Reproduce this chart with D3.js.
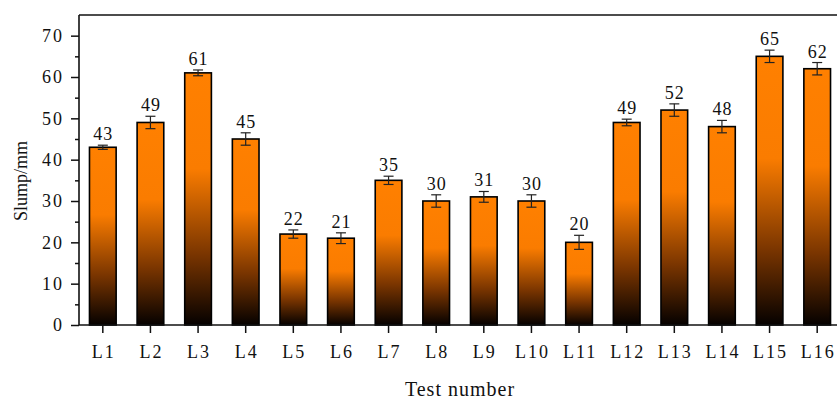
<!DOCTYPE html>
<html>
<head>
<meta charset="utf-8">
<script src="https://cdn.jsdelivr.net/npm/d3@7"></script>
<style>
body { margin: 0; background: #fff; }
text { font-family: "Liberation Serif", "Times New Roman", serif; fill: #111; }
</style>
</head>
<body>
<div id="chart"></div>
<script>
var tests = ["L1","L2","L3","L4","L5","L6","L7","L8","L9","L10","L11","L12","L13","L14","L15","L16"];
var slump = [43, 49, 61, 45, 22, 21, 35, 30, 31, 30, 20, 49, 52, 48, 65, 62];
var errors = [0.5, 1.5, 0.7, 1.5, 1.0, 1.3, 1.0, 1.5, 1.3, 1.5, 1.7, 0.8, 1.5, 1.5, 1.5, 1.5];
var yTicks = [0, 10, 20, 30, 40, 50, 60, 70];

var W = 837, H = 401;
var margin = {top: 15, left: 79, bottom: 76, right: -4};

var svg = d3.select("#chart").append("svg")
	.attr("width", W).attr("height", H);

var grad = svg.append("defs").append("linearGradient")
	.attr("id", "barGrad")
	.attr("x1", 0).attr("y1", 0).attr("x2", 0).attr("y2", 1);
grad.append("stop").attr("offset", "0").attr("stop-color", "#ff8000");
grad.append("stop").attr("offset", "0.38").attr("stop-color", "#fa7c00");
grad.append("stop").attr("offset", "0.72").attr("stop-color", "#7a3500");
grad.append("stop").attr("offset", "1").attr("stop-color", "#050100");

var x = d3.scaleBand().domain(tests)
	.range([margin.left, W - margin.right])
	.paddingInner(0.44).paddingOuter(0.22);
var y = d3.scaleLinear().domain([0, 75]).range([H - margin.bottom, margin.top]);

var data = tests.map(function(t, i) { return {name: t, value: slump[i], err: errors[i]}; });

// bars
svg.selectAll(".bar")
	.data(data).enter()
	.append("rect")
	.attr("class", "bar")
	.attr("x", function(d) { return x(d.name); })
	.attr("y", function(d) { return y(d.value); })
	.attr("width", x.bandwidth())
	.attr("height", function(d) { return y(0) - y(d.value); })
	.attr("fill", "url(#barGrad)")
	.attr("stroke", "#000")
	.attr("stroke-width", 1.6);

// error bars
var eb = svg.selectAll(".err").data(data).enter().append("g").attr("class", "err")
	.attr("stroke", "#222").attr("stroke-width", 1.2);
eb.append("line")
	.attr("x1", function(d) { return x(d.name) + x.bandwidth()/2; })
	.attr("x2", function(d) { return x(d.name) + x.bandwidth()/2; })
	.attr("y1", function(d) { return y(d.value - d.err); })
	.attr("y2", function(d) { return y(d.value + d.err); });
eb.append("line")
	.attr("x1", function(d) { return x(d.name) + x.bandwidth()/2 - 5; })
	.attr("x2", function(d) { return x(d.name) + x.bandwidth()/2 + 5; })
	.attr("y1", function(d) { return y(d.value + d.err); })
	.attr("y2", function(d) { return y(d.value + d.err); });
eb.append("line")
	.attr("x1", function(d) { return x(d.name) + x.bandwidth()/2 - 5; })
	.attr("x2", function(d) { return x(d.name) + x.bandwidth()/2 + 5; })
	.attr("y1", function(d) { return y(d.value - d.err); })
	.attr("y2", function(d) { return y(d.value - d.err); });

// value labels
svg.selectAll(".val")
	.data(data).enter()
	.append("text")
	.attr("class", "val")
	.attr("x", function(d) { return x(d.name) + x.bandwidth()/2 + 0.5; })
	.attr("y", function(d) { return y(d.value + d.err) - 5; })
	.attr("text-anchor", "middle")
	.style("font-size", "18px")
	.style("letter-spacing", "1px")
	.text(function(d) { return d.value; });

// axes
var yAxis = d3.axisLeft(y).tickValues(yTicks).tickSize(8).tickPadding(9);
var yMinor = d3.axisLeft(y).tickValues(d3.range(5, 75, 10)).tickSize(4).tickFormat("");
var xAxis = d3.axisBottom(x).tickSize(8).tickPadding(12);

var gy = svg.append("g").attr("transform", "translate(" + margin.left + ",0)").call(yAxis);
svg.append("g").attr("transform", "translate(" + margin.left + ",0)").call(yMinor);
var gx = svg.append("g").attr("transform", "translate(0," + y(0) + ")").call(xAxis);

svg.selectAll(".domain").remove();
svg.selectAll(".tick line").attr("stroke", "#111").attr("stroke-width", 1.5);
svg.selectAll(".tick text").style("font-size", "18px").attr("fill", "#111")
	.style("letter-spacing", "2px")
	.style("font-family", "'Liberation Serif', 'Times New Roman', serif");
gx.selectAll(".tick text").attr("dx", "1px");
gy.selectAll(".tick text").attr("dx", "2px");

// frame: left, bottom and top lines
svg.append("line").attr("x1", margin.left).attr("x2", margin.left)
	.attr("y1", margin.top).attr("y2", y(0))
	.attr("stroke", "#111").attr("stroke-width", 1.6);
svg.append("line").attr("x1", margin.left).attr("x2", W)
	.attr("y1", y(0)).attr("y2", y(0))
	.attr("stroke", "#111").attr("stroke-width", 1.6);
svg.append("line").attr("x1", margin.left).attr("x2", W)
	.attr("y1", margin.top).attr("y2", margin.top)
	.attr("stroke", "#111").attr("stroke-width", 1.6);

// titles
svg.append("text")
	.attr("transform", "translate(27,181) rotate(-90)")
	.attr("text-anchor", "middle")
	.style("font-size", "18px")
	.text("Slump/mm");
svg.append("text")
	.attr("x", 460).attr("y", 396)
	.attr("text-anchor", "middle")
	.style("font-size", "20px")
	.style("letter-spacing", "1px")
	.text("Test number");
</script>
</body>
</html>
